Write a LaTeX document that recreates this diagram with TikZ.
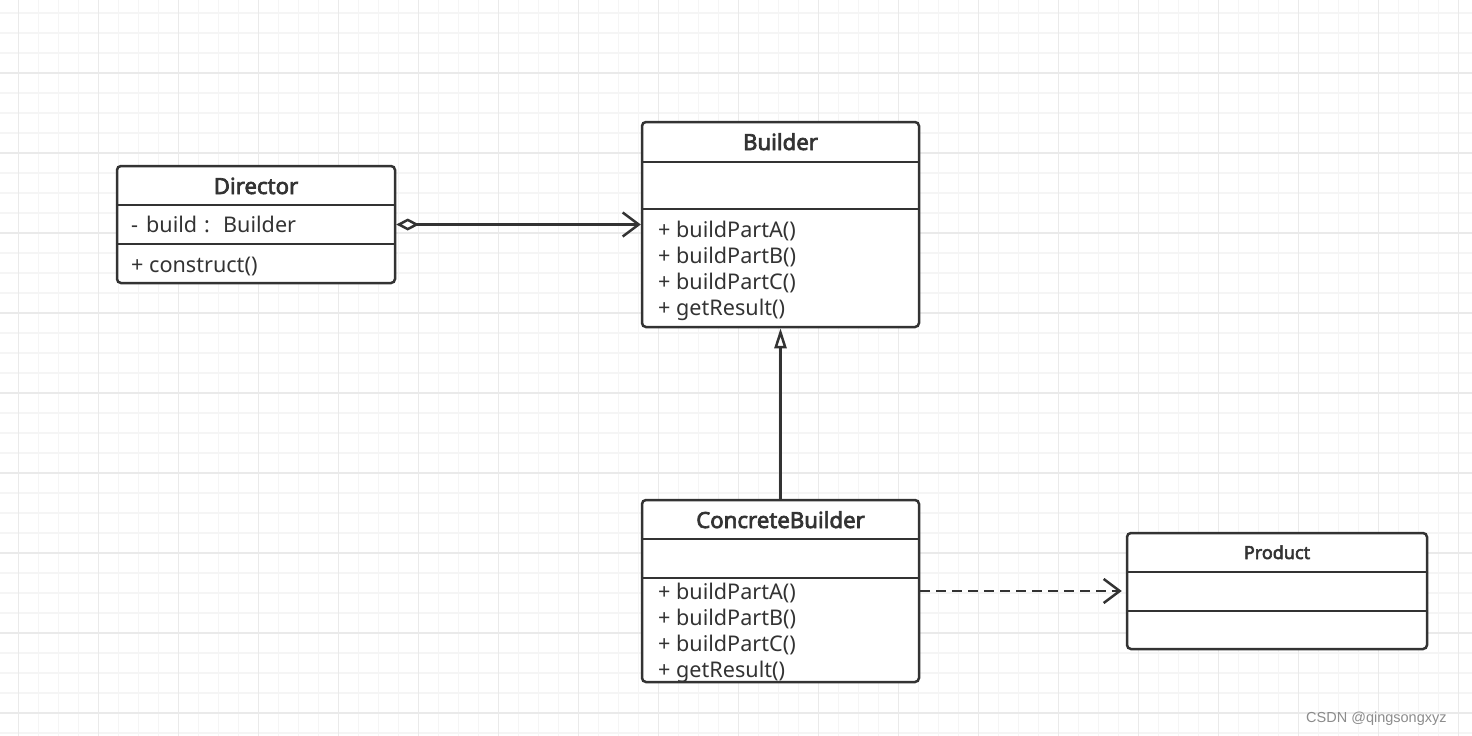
\documentclass[tikz,border=0pt]{standalone}
\usepackage{fontspec}
\setmainfont{Noto Sans}[BoldFont={Noto Sans}, BoldFeatures={FakeBold=3}]
\newfontfamily\wmfont{Liberation Sans}
\usetikzlibrary{arrows.meta}
\definecolor{ink}{HTML}{333333}
\definecolor{gridminor}{HTML}{F5F5F5}
\definecolor{gridmajor}{HTML}{EAEAEA}
\definecolor{wmgray}{HTML}{8C8C8C}
\begin{document}
\begin{tikzpicture}[x=1pt,y=-1pt,
  classbox/.style={draw=ink, line width=2.5pt, rounded corners=4pt, fill=white, inner sep=0pt},
  ctitle/.style={font=\fontsize{22.2}{26}\selectfont\bfseries, text=ink, inner sep=0pt, anchor=base},
  member/.style={font=\fontsize{21.6}{26}\selectfont, text=ink, inner sep=0pt, anchor=base west},
  divider/.style={draw=ink, line width=2.5pt},
  link/.style={draw=ink, line width=2.5pt},
]
\useasboundingbox (0,0) rectangle (1472,736);
\fill[white] (0,0) rectangle (1472,736);
% grid
\foreach \x in {18.5,38.5,...,1472} \draw[gridminor, line width=1.6pt] (\x,0) -- (\x,736);
\foreach \y in {13,33,...,736} \draw[gridminor, line width=1.6pt] (0,\y) -- (1472,\y);
\foreach \x in {18.5,98.5,...,1472} \draw[gridmajor, line width=1.6pt] (\x,0) -- (\x,736);
\foreach \y in {73,153,...,736} \draw[gridmajor, line width=1.6pt] (0,\y) -- (1472,\y);

% Director
\node[classbox, minimum width=278pt, minimum height=117pt] (director) at (256,224.5) {};
\draw[divider] (director.west |- 0,205) -- (director.east |- 0,205);
\draw[divider] (director.west |- 0,244) -- (director.east |- 0,244);
\node[ctitle] (dtitle) at (256,194) {Director};
\node[member] (dattr) at (131,232) {\makebox[15pt][l]{-}\makebox[58pt][l]{build}\makebox[19pt][l]{:}Builder};
\node[member] (dop) at (131,272) {+ construct()};

% Builder
\node[classbox, minimum width=277pt, minimum height=205pt] (builder) at (780.5,224.5) {};
\draw[divider] (builder.west |- 0,162) -- (builder.east |- 0,162);
\draw[divider] (builder.west |- 0,209) -- (builder.east |- 0,209);
\node[ctitle] (btitle) at (780.5,150) {Builder};
\node[member] (bm1) at (658,237) {+ buildPartA()};
\node[member] (bm2) at (658,263) {+ buildPartB()};
\node[member] (bm3) at (658,289) {+ buildPartC()};
\node[member] (bm4) at (658,315) {+ getResult()};

% ConcreteBuilder
\node[classbox, minimum width=277pt, minimum height=182pt] (concrete) at (780.5,591) {};
\draw[divider] (concrete.west |- 0,539) -- (concrete.east |- 0,539);
\draw[divider] (concrete.west |- 0,578) -- (concrete.east |- 0,578);
\node[ctitle] (ctitle) at (780.5,528) {ConcreteBuilder};
\node[member] (cm1) at (658,599) {+ buildPartA()};
\node[member] (cm2) at (658,625) {+ buildPartB()};
\node[member] (cm3) at (658,651) {+ buildPartC()};
\node[member] (cm4) at (658,677) {+ getResult()};

% Product
\node[classbox, minimum width=300pt, minimum height=116pt] (product) at (1277,591) {};
\draw[divider] (product.west |- 0,572) -- (product.east |- 0,572);
\draw[divider] (product.west |- 0,611) -- (product.east |- 0,611);
\node[ctitle, font=\fontsize{18}{20}\selectfont\bfseries] (ptitle) at (1277,559) {Product};

% connectors
\draw[link, {Diamond[open, length=23pt, width=12pt]}-{Straight Barb[length=16pt, width=24pt]}]
  (director.east) -- (builder.west);
\draw[link, -{Triangle[open, fill=white, length=20pt, width=12pt]}]
  (concrete.north) -- (builder.south);
\draw[link, dash pattern=on 10pt off 6pt, -{Straight Barb[length=16pt, width=24pt]}, shorten >=4pt]
  (concrete.east) -- (product.west);

% watermark
\node[font=\wmfont\fontsize{14.5}{16}\selectfont, text=wmgray, inner sep=0pt, anchor=base west] (wm) at (1306,722) {CSDN @qingsongxyz};
\end{tikzpicture}
\end{document}
